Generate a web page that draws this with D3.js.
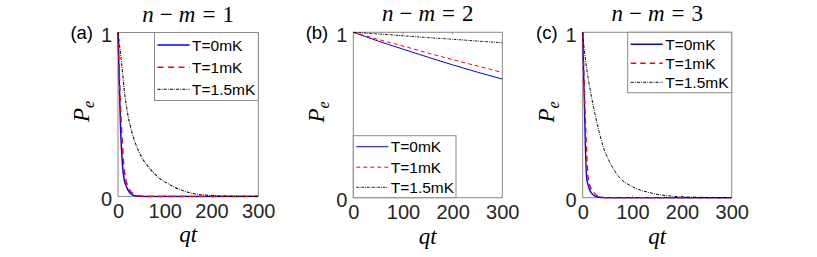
<!DOCTYPE html>
<html>
<head>
<meta charset="utf-8">
<script src="https://cdn.jsdelivr.net/npm/d3@7"></script>
<style>
  html, body { margin: 0; padding: 0; background: #fff; }
  svg { display: block; }
</style>
</head>
<body>
<div id="chart"></div>
<script>
// Three decay panels P_e(qt) for n-m = 1, 2, 3 at T = 0, 1, 1.5 mK
// values

const legendLabels = ["T=0mK", "T=1mK", "T=1.5mK"];
const xTicks = [0, 100, 200, 300];
const yTicks = [0, 1];

// (a) n-m=1
const tA0 = [0, 1, 2, 3.6, 5.7, 7.5, 9.3, 13.5, 18, 22, 28, 36, 50, 300];
const pA0 = [1, 0.89, 0.78, 0.61, 0.40, 0.29, 0.20, 0.10, 0.06, 0.035, 0.015, 0.004, 0, 0];
const tA1 = [0, 1, 2, 4, 7.8, 10, 12, 17, 21, 26, 33, 43, 60, 300];
const pA1 = [1, 0.91, 0.82, 0.65, 0.40, 0.29, 0.20, 0.10, 0.06, 0.035, 0.015, 0.004, 0, 0];
const tA2 = [0, 2, 3, 7.8, 15, 22, 29, 43.5, 65, 86, 115, 150, 186, 230, 300];
const pA2 = [1, 0.955, 0.93, 0.81, 0.61, 0.485, 0.40, 0.28, 0.18, 0.117, 0.065, 0.025, 0.008, 0.002, 0];

// (b) n-m=2
const tB = [0, 50, 100, 150, 200, 250, 300];
const pB0 = [1, 0.947, 0.898, 0.850, 0.803, 0.759, 0.717];
const pB1 = [1, 0.957, 0.917, 0.875, 0.835, 0.796, 0.757];
const pB2 = [1, 0.990, 0.979, 0.968, 0.958, 0.947, 0.937];

// (c) n-m=3
const tC0 = [0, 1.5, 3.3, 5.4, 8, 12, 16, 22, 30, 45, 300];
const pC0 = [1, 0.80, 0.59, 0.31, 0.12, 0.065, 0.036, 0.015, 0.004, 0, 0];
const tC1 = [0, 1.8, 4, 6.5, 9, 11.5, 16, 21.5, 28, 36, 50, 300];
const pC1 = [1, 0.82, 0.60, 0.38, 0.20, 0.11, 0.06, 0.036, 0.015, 0.005, 0, 0];
const tC2 = [0, 2, 5, 9, 14, 19, 26, 33, 41, 52, 72, 100, 140, 190, 240, 300];
const pC2 = [1, 0.93, 0.85, 0.76, 0.67, 0.59, 0.49, 0.40, 0.31, 0.23, 0.13, 0.067, 0.027, 0.007, 0.002, 0];

const W = 817, H = 257;
const SANS = "'Liberation Sans', Arial, Helvetica, sans-serif";
const SERIF = "'Liberation Serif', 'Times New Roman', serif";
const AXIS = "#8a8a8a";

// layout per panel (pixels); series pair t/p arrays with styles
const panels = [
  { tag: "(a)", k: "1", box: [118, 32.5, 258.3, 196.4],
    leg: { x: 154.5, y: 32.5, w: 103.8, h: 68, rows: [12.5, 34.8, 56.8] },
    lw: 1.5, dash: "6,4.5", dot: "3,1.2,0.8,1.2",
    data: [[tA0, pA0], [tA1, pA1], [tA2, pA2]] },
  { tag: "(b)", k: "2", box: [353.3, 32.3, 502.3, 197.7],
    leg: { x: 353.3, y: 135.7, w: 102.7, h: 62, rows: [11, 31.5, 51.6] },
    lw: 1, dash: "4,3", dot: "2.5,1,0.8,1",
    data: [[tB, pB0], [tB, pB1], [tB, pB2]] },
  { tag: "(c)", k: "3", box: [582.7, 32.3, 731.7, 197.7],
    leg: { x: 627.7, y: 32.3, w: 104, h: 60.4, rows: [12, 31, 50] },
    lw: 1.4, dash: "5.5,4", dot: "3,1.2,0.8,1.2",
    data: [[tC0, pC0], [tC1, pC1], [tC2, pC2]] },
];
const colors = ["#0000ff", "#ff0000", "#000000"];

const svg = d3.select("#chart").append("svg")
  .attr("width", W).attr("height", H)
  .attr("viewBox", `0 0 ${W} ${H}`);
svg.append("rect").attr("width", W).attr("height", H).attr("fill", "#fff");

const styleOf = (P, i) => ({
  w: i === 2 ? Math.max(0.9, P.lw * 0.7) : P.lw,
  dash: i === 0 ? null : (i === 1 ? P.dash : P.dot),
});

panels.forEach((P, pi) => {
  const [x0, y0, x1, y1] = P.box;
  const x = d3.scaleLinear().domain([0, 300]).range([x0, x1]);
  const y = d3.scaleLinear().domain([0, 1]).range([y1, y0]);
  const g = svg.append("g");

  const clipId = "clip" + pi;
  svg.append("clipPath").attr("id", clipId)
    .append("rect").attr("x", x0 - 1).attr("y", y0 - 1).attr("width", x1 - x0 + 1).attr("height", y1 - y0 + 2);

  // box + inward ticks (curves drawn on top, like the reference)
  g.append("rect")
    .attr("x", x0).attr("y", y0).attr("width", x1 - x0).attr("height", y1 - y0)
    .attr("fill", "none").attr("stroke", AXIS).attr("stroke-width", 1);
  xTicks.slice(1, -1).forEach(v => {
    g.append("line").attr("x1", x(v)).attr("x2", x(v)).attr("y1", y1).attr("y2", y1 - 2)
      .attr("stroke", AXIS);
    g.append("line").attr("x1", x(v)).attr("x2", x(v)).attr("y1", y0).attr("y2", y0 + 2)
      .attr("stroke", AXIS);
  });

  // curves
  const line = d3.line().x(d => x(d[0])).y(d => y(d[1])).curve(d3.curveMonotoneX);
  P.data.forEach(([ts, ps], i) => {
    const st = styleOf(P, i);
    g.append("path")
      .attr("clip-path", `url(#${clipId})`)
      .attr("d", line(ts.map((t, j) => [t, ps[j]])))
      .attr("fill", "none")
      .attr("stroke", colors[i])
      .attr("stroke-width", st.w)
      .attr("stroke-dasharray", st.dash);
  });

  const bottom = g.append("g").attr("transform", `translate(0,${y1})`)
    .call(d3.axisBottom(x).tickValues(xTicks).tickSizeInner(0).tickSizeOuter(0).tickPadding(7));
  bottom.select(".domain").remove();
  bottom.selectAll("text")
    .attr("style", `font:20px ${SANS};fill:#262626`);
  const left = g.append("g").attr("transform", `translate(${x0},0)`)
    .call(d3.axisLeft(y).tickValues(yTicks).tickFormat(d3.format("d")).tickSizeInner(0).tickSizeOuter(0).tickPadding(6));
  left.select(".domain").remove();
  left.selectAll("text")
    .attr("dy", "0.45em")
    .attr("style", `font:20px ${SANS};fill:#262626`);

  // panel tag
  g.append("text")
    .attr("x", x0 - 25).attr("y", y0 + 6.5)
    .attr("text-anchor", "end")
    .attr("style", `font:18.5px ${SANS};fill:#000`)
    .text(P.tag);

  // title: n − m = k
  const ttl = g.append("text")
    .attr("x", (x0 + x1) / 2).attr("y", y0 - 11)
    .attr("text-anchor", "middle")
    .attr("style", `font:23px ${SERIF};fill:#000`);
  ttl.append("tspan").attr("font-style", "italic").text("n");
  ttl.append("tspan").attr("dx", 6).text("\u2212");
  ttl.append("tspan").attr("dx", 6).attr("font-style", "italic").text("m");
  ttl.append("tspan").attr("dx", 7).text("=");
  ttl.append("tspan").attr("dx", 7).text(P.k);

  // y label P_e
  const yl = g.append("text")
    .attr("transform", `translate(${x0 - 29},${(y0 + y1) / 2 - 3}) rotate(-90)`)
    .attr("text-anchor", "middle")
    .attr("style", `font:italic 23px ${SERIF};fill:#000`);
  yl.append("tspan").text("P");
  yl.append("tspan").attr("dy", 5).attr("font-size", "16px").text("e");

  // x label qt
  g.append("text")
    .attr("x", (x0 + x1) / 2).attr("y", y1 + 46)
    .attr("text-anchor", "middle")
    .attr("style", `font:italic 23px ${SERIF};fill:#000`)
    .text("qt");

  // legend
  const L = P.leg;
  const lg = g.append("g").attr("transform", `translate(${L.x},${L.y})`);
  lg.append("rect").attr("width", L.w).attr("height", L.h)
    .attr("fill", "#fff").attr("stroke", AXIS).attr("stroke-width", 1);
  legendLabels.forEach((lab, i) => {
    const st = styleOf(P, i);
    lg.append("line")
      .attr("x1", 3).attr("x2", 35).attr("y1", L.rows[i]).attr("y2", L.rows[i])
      .attr("stroke", colors[i]).attr("stroke-width", st.w)
      .attr("stroke-dasharray", st.dash);
    lg.append("text")
      .attr("x", 37.5).attr("y", L.rows[i] + 5.6)
      .attr("style", `font:15.5px ${SANS};fill:#000`)
      .text(lab);
  });
});
</script>
</body>
</html>
